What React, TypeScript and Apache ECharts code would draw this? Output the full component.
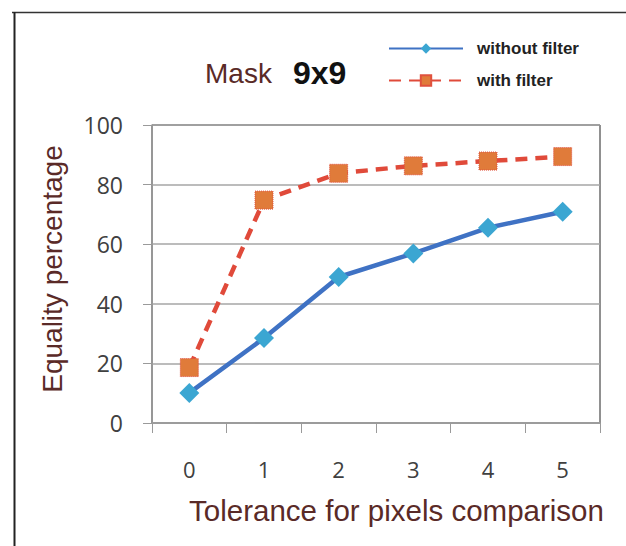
import React, { useEffect, useRef } from "react";
import * as echarts from "echarts";

const categories = ["0", "1", "2", "3", "4", "5"];
const withoutFilter = [10.1, 28.5, 49.0, 56.9, 65.5, 70.9];
const withFilter = [18.6, 74.8, 83.8, 86.3, 87.9, 89.4];
const yTicks = { min: 0, max: 100, interval: 20 };
const titleMask = "Mask";
const titleSize = "9x9";

export default function App() {
  const ref = useRef<HTMLDivElement>(null);
  useEffect(() => {
    if (!ref.current) return;
    const chart = echarts.init(ref.current, null, { renderer: "svg" });
    chart.setOption({
      animation: false,
      backgroundColor: "#ffffff",
      legend: {
        orient: "vertical",
        left: 383,
        top: 35,
        itemWidth: 74,
        itemHeight: 13,
        itemGap: 15,
        textStyle: {
          fontFamily: "Liberation Sans",
          fontSize: 17,
          fontWeight: "bold",
          color: "#222222",
          padding: [0, 0, 0, 9],
        },
        data: ["without filter", "with filter"],
      },
      grid: {
        left: 152,
        top: 125,
        width: 448,
        height: 298,
        show: true,
        borderColor: "#222222",
        borderWidth: 1,
        backgroundColor: "transparent",
      },
      xAxis: {
        type: "category",
        data: categories,
        boundaryGap: true,
        name: "Tolerance for pixels comparison",
        nameLocation: "middle",
        nameGap: 72,
        nameTextStyle: {
          fontFamily: "Liberation Sans",
          fontSize: 29.5,
          color: "#5a2a27",
          padding: [0, 0, 0, 41],
        },
        axisLine: { lineStyle: { color: "#9a9a9a", width: 1.5 } },
        axisTick: { show: true, length: 10, lineStyle: { color: "#9a9a9a" } },
        axisLabel: { fontFamily: "Open Sans", fontSize: 22, color: "#404040", margin: 35 },
        splitLine: { show: false },
      },
      yAxis: {
        type: "value",
        min: yTicks.min,
        max: yTicks.max,
        interval: yTicks.interval,
        name: "Equality percentage",
        nameLocation: "middle",
        nameGap: 86,
        nameTextStyle: {
          fontFamily: "Liberation Sans",
          fontSize: 28,
          color: "#5a2a27",
          padding: [0, 0, 0, 10],
        },
        axisLine: { show: true, lineStyle: { color: "#9a9a9a", width: 1.5 } },
        axisTick: { show: true, length: 9, lineStyle: { color: "#9a9a9a" } },
        axisLabel: { fontFamily: "Open Sans", fontSize: 23, color: "#404040", margin: 29 },
        splitLine: { show: true, lineStyle: { color: "#a6a6a6", width: 1.5 } },
      },
      series: [
        {
          name: "without filter",
          type: "line",
          data: withoutFilter,
          symbol: "diamond",
          symbolSize: 20,
          lineStyle: { color: "#3f72c4", width: 4.5 },
          itemStyle: { color: "#3ba6d2", borderWidth: 0 },
          z: 3,
        },
        {
          name: "with filter",
          type: "line",
          data: withFilter,
          symbol: "rect",
          symbolSize: 18,
          lineStyle: { color: "#e04a3a", width: 4.5, type: [12, 8] },
          itemStyle: { color: "#e07b3a", borderColor: "#e0513e", borderWidth: 1, borderType: "dotted" },
          z: 2,
        },
      ],
      graphic: [
        { type: "line", shape: { x1: 12, y1: 12.5, x2: 626, y2: 12.5 }, style: { stroke: "#333333", lineWidth: 1.5 } },
        { type: "line", shape: { x1: 14.5, y1: 12, x2: 14.5, y2: 546 }, style: { stroke: "#222222", lineWidth: 2 } },
        {
          type: "text",
          x: 205,
          y: 73,
          style: {
            text: titleMask,
            fontFamily: "Liberation Sans",
            fontSize: 28,
            fill: "#5a2a27",
            verticalAlign: "middle",
            align: "left",
          },
        },
        {
          type: "text",
          x: 293,
          y: 73,
          style: {
            text: titleSize,
            fontFamily: "Liberation Sans",
            fontSize: 32,
            fontWeight: "bold",
            fill: "#111111",
            verticalAlign: "middle",
            align: "left",
          },
        },
      ],
    });
    return () => chart.dispose();
  }, []);
  return <div ref={ref} style={{ position: "fixed", left: 0, top: 0, width: 626, height: 546 }} />;
}
